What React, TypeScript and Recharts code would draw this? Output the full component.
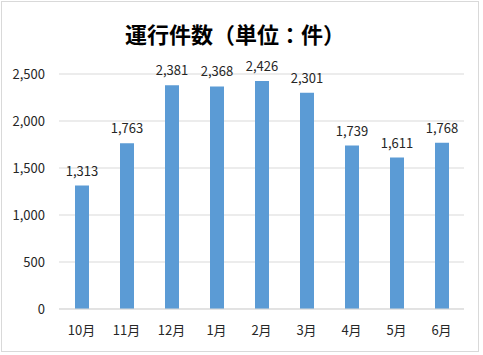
import React from "react";
import { BarChart, Bar, XAxis, YAxis, CartesianGrid, LabelList } from "recharts";

const months = ["10月", "11月", "12月", "1月", "2月", "3月", "4月", "5月", "6月"];
const counts = [1313, 1763, 2381, 2368, 2426, 2301, 1739, 1611, 1768];
const yTicks = [0, 500, 1000, 1500, 2000, 2500];

const data = months.map((m, i) => ({ month: m, value: counts[i] }));
const fmt = (v: number) => v.toLocaleString("en-US");
const FONT = '"Noto Sans CJK JP", "Noto Sans", sans-serif';

export default function App() {
  return (
    <div
      style={{
        position: "fixed",
        left: 0,
        top: 0,
        width: 483,
        height: 355,
        background: "#fff",
        fontFamily: FONT,
      }}
    >
      <div
        style={{
          position: "absolute",
          left: 1,
          top: 1,
          width: 478,
          height: 351,
          border: "1px solid #d9d9d9",
          boxSizing: "border-box",
        }}
      />
      <div
        style={{
          position: "absolute",
          left: 0,
          width: 470,
          top: 18,
          textAlign: "center",
          fontSize: 22,
          fontWeight: "bold",
          color: "#000",
          lineHeight: "30px",
        }}
      >
        運行件数（単位：件）
      </div>
      <div style={{ position: "absolute", left: 0, top: 0 }}>
        <BarChart
          width={483}
          height={355}
          data={data}
          margin={{ top: 74, right: 19, bottom: 16, left: 0 }}
        >
          <CartesianGrid vertical={false} stroke="#d9d9d9" />
          <XAxis
            dataKey="month"
            tickLine={false}
            axisLine={{ stroke: "#d9d9d9" }}
            tickSize={0}
            tickMargin={17}
            height={30}
            tick={{ fill: "#262626", fontSize: 13, fontFamily: FONT }}
          />
          <YAxis
            domain={[0, 2500]}
            ticks={yTicks}
            tickFormatter={fmt}
            tickLine={false}
            axisLine={false}
            tickSize={0}
            tickMargin={14}
            width={59}
            tick={{ fill: "#262626", fontSize: 13, fontFamily: FONT }}
          />
          <Bar dataKey="value" fill="#5B9BD5" barSize={14} isAnimationActive={false}>
            <LabelList
              dataKey="value"
              position="top"
              offset={10}
              formatter={(v: any) => fmt(Number(v))}
              style={{ fill: "#262626", fontSize: 13, fontFamily: FONT }}
            />
          </Bar>
        </BarChart>
      </div>
    </div>
  );
}
